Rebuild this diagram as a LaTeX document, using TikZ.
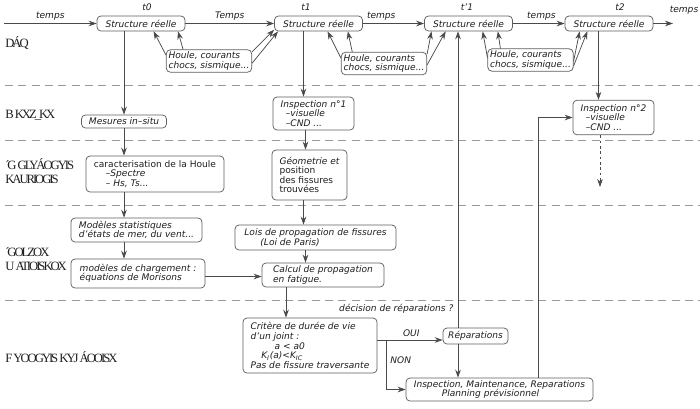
\documentclass[tikz,border=0pt]{standalone}
\usepackage{fontspec}
\setmainfont{DejaVu Sans}
\newfontfamily\rowfont[LetterSpace=-16]{Liberation Serif}
\usetikzlibrary{arrows.meta,calc}
\definecolor{linec}{HTML}{4A4A4A}
\definecolor{boxc}{HTML}{5E5E5E}
\definecolor{textc}{HTML}{1E1E1E}
\begin{document}
\begin{tikzpicture}[
        x=0.75pt, y=-0.75pt,
        font=\fontsize{6.8}{7.2}\selectfont\itshape,
        box/.style={draw=boxc, line width=0.55pt, rounded corners=3pt, inner sep=1.5pt, align=left, text=textc},
        sbox/.style={box, align=center, minimum width=66pt, minimum height=11.25pt},
        hbox/.style={box, minimum width=64pt, minimum height=16.5pt},
        lbl/.style={text=textc, inner sep=1pt},
        arr/.style={draw=linec, line width=0.55pt, -{Stealth[length=6pt,width=4.2pt]}},
        rowline/.style={draw=gray!80, line width=0.55pt, dash pattern=on 6pt off 4pt},
        rowlbl/.style={anchor=west, inner sep=0pt, align=left, text=textc,
          font=\rowfont\fontsize{9.5}{10.5}\selectfont}
      ]
      \useasboundingbox (0,0) rectangle (700,408);
      % bands
      \foreach \yy in {85,140,205,300}
        \draw[rowline] (5,\yy) -- (700,\yy);
      \node[rowlbl] (rl1) at (5,43) {DÁQ};
      \node[rowlbl] (rl2) at (5,115) {B KXZ\_KX};
      \node[rowlbl] (rl3) at (5,171) {´G GLYÁOGYIS\\KAURIOGIS};
      \node[rowlbl] (rl4) at (5,259) {´GOLZOX\\U ATIOISKOX};
      \node[rowlbl] (rl5) at (5,357) {F YOOGYIS KYJ ÁOOISX};

      % time line
      \node[sbox] (s0) at (141,23.5) {Structure réelle};
      \node[sbox] (s1) at (318.5,23.5) {Structure réelle};
      \node[sbox] (s2) at (468.5,23.5) {Structure réelle};
      \node[sbox] (s3) at (609,23.5) {Structure réelle};
      \node[lbl] (t0) at (147,7) {t0};
      \node[lbl] (t1) at (306,7) {t1};
      \node[lbl] (t1b) at (467,7) {t'1};
      \node[lbl] (t2) at (620,7) {t2};
      \coordinate (tin) at (4,23.5);
      \coordinate (tout) at (673,23.5);
      \node[lbl] (tlast) at (684,10) {temps};
      \draw[arr] (tin) -- (s0.west) node[midway, above=1pt, lbl] {temps};
      \draw[arr] (s0.east) -- (s1.west) node[midway, above=1pt, lbl] {Temps};
      \draw[arr] (s1.east) -- (s2.west) node[pos=.3, above=1pt, lbl] {temps};
      \draw[arr] (s2.east) -- (s3.west) node[pos=.55, above=1pt, lbl] {temps};
      \draw[arr] (s3.east) -- (tout);

      % loads
      \node[hbox] (h0) at (209,61) {Houle, courants\\chocs, sismique...};
      \node[hbox] (h1) at (384,63.5) {Houle, courants\\chocs, sismique...};
      \node[hbox] (h2) at (530.5,60) {Houle, courants\\chocs, sismique...};
      \draw[arr] (h0.172) -- (s0.-32);
      \draw[arr] (h0.156) -- (s0.-12);
      \draw[arr] (h0.12) -- (s1.-172);
      \draw[arr] (h0.-3) -- (s1.-169);
      \draw[arr] (h1.173) -- (s1.-41);
      \draw[arr] (h1.160) -- (s1.-15);
      \draw[arr] (h1.12) -- (s2.-168);
      \draw[arr] (h1.-2) -- (s2.-161);
      \draw[arr] (h2.177) -- (s2.-29);
      \draw[arr] (h2.159) -- (s2.-15);
      \draw[arr] (h2.-2) -- (s3.-165);
      \draw[arr] (h2.-8) -- (s3.-160);

      % measures
      \node[box, minimum width=63.75pt, minimum height=9.75pt] (m0) at (124,121.5) {Mesures in–situ};
      \node[box, minimum width=60.75pt, minimum height=24.75pt] (i1) at (313.5,113.5)
        {Inspection n°1\\\hspace*{4pt}–visuelle\\\hspace*{4pt}–CND ...};
      \node[box, minimum width=60.75pt, minimum height=26pt] (i2) at (613.5,117.5)
        {Inspection n°2\\\hspace*{4pt}–visuelle\\\hspace*{4pt}–CND ...};
      \draw[arr] (s0.south -| m0.north) -- (m0.north);
      \draw[arr] (s1.south -| i1.north) ++(-10,0) coordinate (c1) -- (c1 |- i1.north);
      \draw[arr] (s3.south -| i2.north) ++(-15,0) coordinate (c3) -- (c3 |- i2.north);
      \coordinate (i2end) at (600,187);
      \draw[arr, dash pattern=on 2.2pt off 1.8pt] (i2.south -| i2end) -- (i2end);

      % characterisation
      \node[box, minimum width=103.5pt, minimum height=27pt] (c0) at (155,174)
        {\upshape caracterisation de la Houle\\\hspace*{9pt}–Spectre\\\hspace*{9pt}– Hs, Ts...};
      \node[box, minimum width=56.25pt, minimum height=37.5pt] (g1) at (309.5,175)
        {Géometrie et\\\upshape position\\\upshape des fissures\\\upshape trouvées};
      \draw[arr] (m0.south) -- (m0.south |- c0.north);
      \draw[arr] (i1.south -| c1) ++(2,0) coordinate (c1b) -- (c1b |- g1.north);

      % models
      \node[box, minimum width=98.25pt, minimum height=18pt] (ms) at (136.5,230)
        {Modèles statistiques\\d’états de mer, du vent...};
      \node[box, minimum width=100.5pt, minimum height=21.75pt] (mc) at (138,273.5)
        {modèles de chargement :\\équations de Morisons};
      \node[box, minimum width=120.75pt, minimum height=18.75pt] (lp) at (315.5,237.5)
        {Lois de propagation de fissures\\\hspace*{12pt}(Loi de Paris)};
      \node[box, minimum width=91.5pt, minimum height=18pt] (cp) at (323,275)
        {Calcul de propagation\\en fatigue.};
      \draw[arr] (m0.south |- c0.south) -- (m0.south |- ms.north);
      \draw[arr] (m0.south |- ms.south) -- (m0.south |- mc.north);
      \draw[arr] (g1.south -| c1) -- (c1 |- lp.north);
      \draw[arr] (lp.south -| c1b) -- (c1b |- cp.north);
      \draw[arr] (mc.east) ++(0,3) coordinate (mcr) -- (mcr -| cp.west);

      % decision
      \node[lbl, anchor=east] (dec) at (455,309) {décision de réparations ?};
      \node[box, minimum width=100.5pt, minimum height=41.25pt] (cr) at (310,345.5)
        {Critère de durée de vie\\d’un joint :\\\hspace*{18pt}a < a0\\\hspace*{8pt}K\textsubscript{I}(a)<K\textsubscript{IC}\\Pas de fissure traversante};
      \node[box, minimum width=48.75pt, minimum height=12pt] (rep) at (475.5,336) {Réparations};
      \node[box, minimum width=140.25pt, minimum height=17.25pt] (im) at (499.5,389.5)
        {Inspection, Maintenance, Reparations\\\hspace*{21pt}Planning prévisionnel};
      \coordinate (ccp) at (286,0);
      \coordinate (br) at (386,340);
      \coordinate (colR) at (458,0);
      \coordinate (colI) at (538,0);
      \draw[arr] (cp.south -| ccp) -- (cr.north -| ccp);
      \draw[arr] (cr.east |- br) -- (br -| rep.west) node[pos=.52, above=1pt, lbl] {OUI};
      \draw[arr] (br) |- (im.west) node[pos=.2, right=2pt, lbl] {NON};
      \draw[arr] (rep.north -| colR) -- (s2.south -| colR);
      \draw[arr] (rep.south -| colR) -- (im.north -| colR);
      \draw[arr] (im.north -| colI) |- (i2.west);
\end{tikzpicture}
\end{document}
